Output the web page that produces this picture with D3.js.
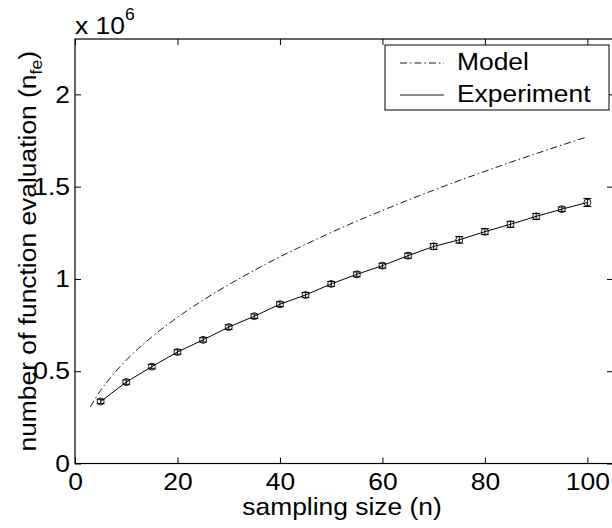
<!DOCTYPE html>
<html><head><meta charset="utf-8">
<script src="https://cdn.jsdelivr.net/npm/d3@7"></script>
<style>
html,body{margin:0;padding:0;background:#fff;}
svg text{font-family:"Liberation Sans",Arial,Helvetica,sans-serif;fill:#000;}
</style></head>
<body><svg id="c" width="612" height="528"></svg>
<script>
// ---- data ----
const xTicks = [0, 20, 40, 60, 80, 100];
const yTicks = [0, 0.5, 1, 1.5, 2];
const yTickLabels = ["0", "0.5", "1", "1.5", "2"];
const expN = [5,10,15,20,25,30,35,40,45,50,55,60,65,70,75,80,85,90,95,100];
const expVals = [0.336,0.441,0.525,0.604,0.670,0.739,0.798,0.863,0.913,0.973,1.025,1.072,1.126,1.176,1.212,1.256,1.296,1.339,1.378,1.414];
const expErr = [0.012,0.012,0.012,0.012,0.012,0.012,0.012,0.013,0.013,0.013,0.013,0.013,0.014,0.016,0.018,0.016,0.016,0.016,0.012,0.022];
const modelN = [3,4,5,7,10,15,20,25,30,35,40,45,50,55,60,65,70,75,80,85,90,95,100];
const modelVals = [0.307,0.354,0.396,0.468,0.560,0.686,0.792,0.885,0.969,1.047,1.120,1.187,1.252,1.313,1.371,1.427,1.481,1.533,1.583,1.632,1.679,1.725,1.770];
const legendLabels = ["Model", "Experiment"];

// ---- layout ----
const svg = d3.select("#c");
const L = 75, R = 613, T = 39, B = 463.5;
const x = d3.scaleLinear().domain([0, 105]).range([L, R]);
const y = d3.scaleLinear().domain([0, 2.3]).range([B, T]);
const tickLen = 6;
const FS = 24, SX = 1.1;

// axes box
svg.append("rect").attr("x", L).attr("y", T).attr("width", R - L).attr("height", B - T)
  .attr("fill", "none").attr("stroke", "#000").attr("stroke-width", 1.2);

// bottom axis
const gx = svg.append("g").attr("transform", `translate(0,${B})`)
  .call(d3.axisBottom(x).tickValues(xTicks).tickSize(-tickLen).tickPadding(9).tickFormat(d3.format("d")));
gx.select(".domain").remove();
gx.selectAll("text").attr("font-size", FS).attr("dy", "0.71em");
// top axis ticks
const gxt = svg.append("g").attr("transform", `translate(0,${T})`)
  .call(d3.axisTop(x).tickValues(xTicks).tickSize(-tickLen).tickFormat(""));
gxt.select(".domain").remove();
// left axis
const gy = svg.append("g").attr("transform", `translate(${L},0)`)
  .call(d3.axisLeft(y).tickValues(yTicks).tickSize(-tickLen).tickPadding(5)
    .tickFormat((d, i) => yTickLabels[i]));
gy.select(".domain").remove();
gy.selectAll("text").attr("font-size", FS);
// right axis ticks
const gyr = svg.append("g").attr("transform", `translate(${R},0)`)
  .call(d3.axisRight(y).tickValues(yTicks).tickSize(-tickLen).tickFormat(""));
gyr.select(".domain").remove();
svg.selectAll(".tick line").attr("stroke", "#000").attr("stroke-width", 1);

// horizontal stretch of tick labels
gx.selectAll(".tick text").attr("transform", `scale(${SX},1)`).attr("x", 0);
gy.selectAll(".tick text").each(function(){
  const t = d3.select(this);
  const xx = +t.attr("x");
  t.attr("x", xx / SX).attr("transform", `scale(${SX},1)`);
});

// x 10^6
const mult = svg.append("text").attr("transform", `translate(${L},34) scale(${SX},1)`).attr("font-size", FS);
mult.append("tspan").text("x 10");
mult.append("tspan").attr("font-size", 16).attr("dy", -14).text("6");

// axis labels
svg.append("text").attr("transform", `translate(${(L + R) / 2 - 2},515) scale(${SX},1)`)
  .attr("text-anchor", "middle").attr("font-size", FS).text("sampling size (n)");
const yl = svg.append("text").attr("transform", `translate(36,${(T + B) / 2}) rotate(-90) scale(${SX},1)`)
  .attr("text-anchor", "middle").attr("font-size", FS);
yl.append("tspan").text("number of function evaluation (n");
yl.append("tspan").attr("font-size", 16).attr("dy", 6).text("fe");
yl.append("tspan").attr("dy", -6).text(")");

// model line (dash-dot)
svg.append("path").datum(modelN.map((n, i) => [n, modelVals[i]]))
  .attr("d", d3.line().x(d => x(d[0])).y(d => y(d[1])).curve(d3.curveMonotoneX))
  .attr("fill", "none").attr("stroke", "#000").attr("stroke-width", 0.9)
  .attr("stroke-dasharray", "7,3,1.5,3");

// experiment line
const expData = expN.map((n, i) => ({n, v: expVals[i], e: expErr[i]}));
svg.append("path").datum(expData)
  .attr("d", d3.line().x(d => x(d.n)).y(d => y(d.v)))
  .attr("fill", "none").attr("stroke", "#000").attr("stroke-width", 1);

// error bars and markers
const eb = svg.append("g").selectAll("g").data(expData).join("g");
const cap = 4;
eb.append("line").attr("x1", d => x(d.n)).attr("x2", d => x(d.n))
  .attr("y1", d => y(d.v - d.e)).attr("y2", d => y(d.v + d.e)).attr("stroke", "#000").attr("stroke-width", 1);
eb.append("line").attr("x1", d => x(d.n) - cap).attr("x2", d => x(d.n) + cap)
  .attr("y1", d => y(d.v - d.e)).attr("y2", d => y(d.v - d.e)).attr("stroke", "#000").attr("stroke-width", 1);
eb.append("line").attr("x1", d => x(d.n) - cap).attr("x2", d => x(d.n) + cap)
  .attr("y1", d => y(d.v + d.e)).attr("y2", d => y(d.v + d.e)).attr("stroke", "#000").attr("stroke-width", 1);
eb.append("circle").attr("cx", d => x(d.n)).attr("cy", d => y(d.v)).attr("r", 3.5)
  .attr("fill", "none").attr("stroke", "#000").attr("stroke-width", 0.9);

// legend
const lg = svg.append("g");
lg.append("rect").attr("x", 385).attr("y", 45).attr("width", 224).attr("height", 65)
  .attr("fill", "#fff").attr("stroke", "#000").attr("stroke-width", 1);
const rows = [63, 95];
legendLabels.forEach((lab, i) => {
  lg.append("line").attr("x1", 400).attr("x2", 444).attr("y1", rows[i]).attr("y2", rows[i])
    .attr("stroke", "#000").attr("stroke-width", i === 0 ? 0.9 : 0.9)
    .attr("stroke-dasharray", i === 0 ? "7,3,1.5,3" : null);
  lg.append("text").attr("transform", `translate(457,${rows[i] + 7}) scale(${SX},1)`)
    .attr("font-size", FS).text(lab);
});
</script></body></html>
